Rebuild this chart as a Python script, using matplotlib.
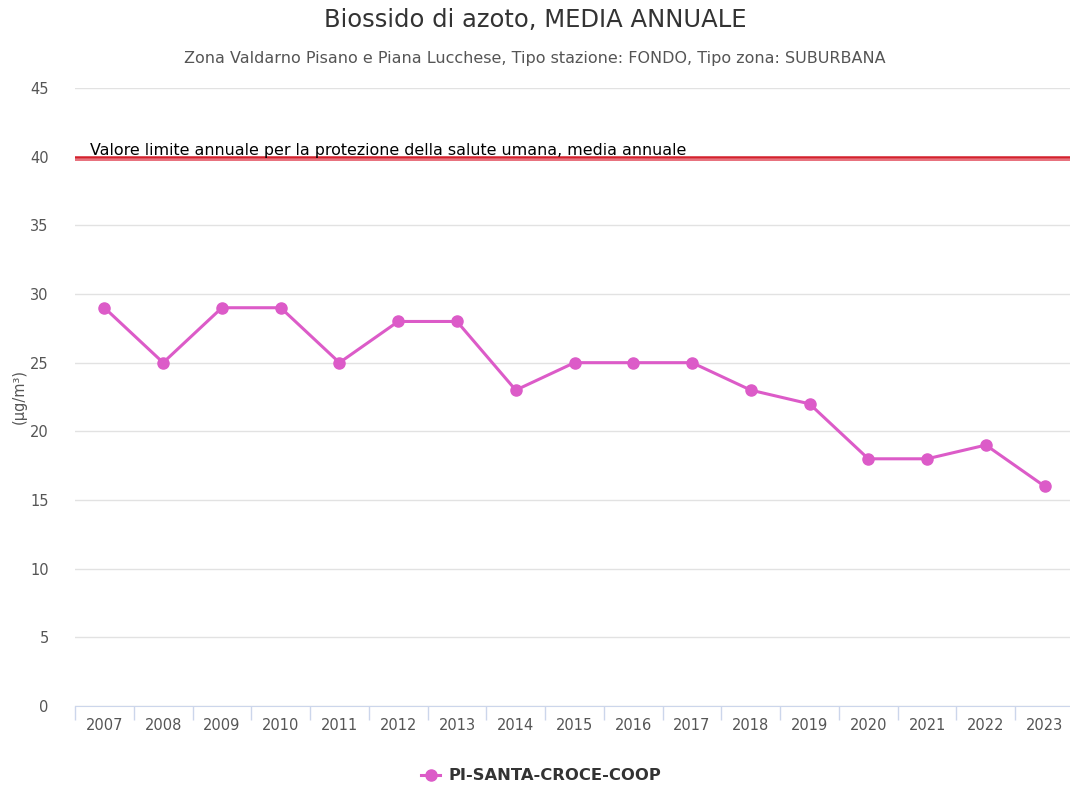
import matplotlib.pyplot as plt
from matplotlib.lines import Line2D

years = ['2007', '2008', '2009', '2010', '2011', '2012', '2013', '2014', '2015',
         '2016', '2017', '2018', '2019', '2020', '2021', '2022', '2023']
values = [29, 25, 29, 29, 25, 28, 28, 23, 25, 25, 25, 23, 22, 18, 18, 19, 16]
station = 'PI-SANTA-CROCE-COOP'
limit = 40
limit_label = 'Valore limite annuale per la protezione della salute umana, media annuale'

plt.rcParams['font.family'] = ['DejaVu Sans']

fig = plt.figure(figsize=(10.7, 7.85), dpi=100)
W, H = 1070, 785
ax = fig.add_axes([75 / W, (H - 706) / H, (1074 - 75) / W, (706 - 88) / H])

x = range(len(years))
ax.plot(x, values, color='#dc5bc8', lw=2.2, marker='o', ms=8, zorder=3)

# limit line (double red stripe)
ax.axhline(limit, color='#d4202c', lw=1.8, zorder=2)
ax.axhline(limit - 0.22, color='#e8707c', lw=1.4, zorder=2)
ax.text(-0.245, limit + 0.12, limit_label, fontsize=11.45, color='black',
        va='baseline', ha='left', zorder=4)

ax.set_xlim(-0.5, len(years) - 0.5)
ax.set_ylim(0, 45)
ax.set_yticks(range(0, 46, 5))
ax.set_xticks(list(x))
ax.set_xticklabels(years)
ax.set_xticks([i - 0.5 for i in range(len(years) + 1)], minor=True)
ax.tick_params(axis='x', which='major', length=0, labelsize=10.5, labelcolor='#555555', pad=9)
ax.tick_params(axis='x', which='minor', length=10, color='#ccd6eb', width=1)
ax.tick_params(axis='y', length=0, labelsize=10.5, labelcolor='#555555', pad=19)

ax.grid(axis='y', color='#e2e2e2', lw=1)
ax.set_axisbelow(True)
for s in ['top', 'right', 'left']:
    ax.spines[s].set_visible(False)
ax.spines['bottom'].set_color('#ccd6eb')

ax.set_ylabel('(µg/m³)', fontsize=10.5, color='#555555')
ax.yaxis.set_label_coords(-0.048, 0.5)

fig.text(535 / W, 1 - 20 / H, 'Biossido di azoto, MEDIA ANNUALE', fontsize=17.5, color='#333333',
         ha='center', va='center')
fig.text(535 / W, 1 - 58 / H,
         'Zona Valdarno Pisano e Piana Lucchese, Tipo stazione: FONDO, Tipo zona: SUBURBANA',
         fontsize=11.5, color='#555555', ha='center', va='center')

handle = Line2D([], [], color='#dc5bc8', lw=2.2, marker='o', ms=8)
fig.legend([handle], [station], loc='center', bbox_to_anchor=(541 / W, 1 - 776 / H),
           frameon=False, prop={'size': 11.8, 'weight': 'bold'}, labelcolor='#333333',
           handlelength=1.2, handletextpad=0.5)

fig.savefig('out.png', dpi=100)
